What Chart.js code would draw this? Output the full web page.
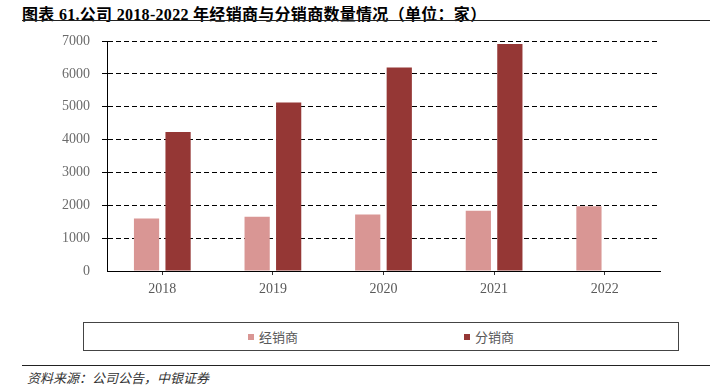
<!DOCTYPE html>
<html>
<head>
<meta charset="utf-8">
<script src="https://cdn.jsdelivr.net/npm/chart.js@4"></script>
<style>
  body { margin: 0; width: 710px; height: 392px; background: #fff; position: relative; overflow: hidden; }
  #title { position: absolute; left: 22px; top: 1px; font: bold 16px "Liberation Serif", "Noto Sans CJK SC", serif; color: #000; white-space: nowrap; letter-spacing: 0.3px; }
  .rule { position: absolute; left: 22px; right: 0; height: 0; border-top: 1.5px solid #222; }
  #chartWrap { position: absolute; left: 0; top: 0; }
  #legend { position: absolute; left: 83px; top: 322px; width: 594px; height: 27px; border: 1.5px solid #444;
            display: flex; justify-content: center; align-items: center; gap: 166px; }
  .item { display: flex; align-items: center; font: 13px "Noto Sans CJK SC", sans-serif; color: #595959; }
  .swatch { width: 6px; height: 6px; margin-right: 5px; }
  #source { position: absolute; left: 27px; top: 368px; font: italic 13px "Noto Sans CJK SC", sans-serif; color: #333; }
</style>
</head>
<body>
<div id="title">图表 61.公司 2018-2022 年经销商与分销商数量情况（单位：家）</div>
<div class="rule" style="top:20px"></div>
<div id="chartWrap"><canvas id="chart" width="710" height="300"></canvas></div>
<div id="legend"></div>
<div class="rule" style="top:365px"></div>
<div id="source">资料来源：公司公告，中银证券</div>
<script>
// 数据
const years = ["2018", "2019", "2020", "2021", "2022"];
const dealers = [1600, 1650, 1720, 1830, 1970];       // 经销商
const distributors = [4230, 5130, 6190, 6910, null];  // 分销商
const yTicks = [0, 1000, 2000, 3000, 4000, 5000, 6000, 7000];

const seriesNames = ["经销商", "分销商"];
const seriesColors = ["#D99694", "#953735"];

const ctx = document.getElementById("chart").getContext("2d");
const chart = new Chart(ctx, {
    type: "bar",
    data: {
        labels: years,
        datasets: [
            { label: seriesNames[0], data: dealers, backgroundColor: seriesColors[0] },
            { label: seriesNames[1], data: distributors, backgroundColor: seriesColors[1] }
        ]
    },
    options: {
        responsive: false,
        animation: false,
        categoryPercentage: 0.57,
        barPercentage: 0.8,
        layout: { padding: { left: 0, right: 50, top: 41, bottom: 0 } },
        plugins: { legend: { display: false }, tooltip: { enabled: false } },
        scales: {
            x: {
                afterFit: s => { s.height = 29; },
                grid: { offset: false, drawOnChartArea: false, drawTicks: true, tickLength: 4, color: "#333" },
                border: { color: "#000", width: 1 },
                ticks: { color: "#595959", padding: 6, font: { family: "Liberation Serif", size: 14 } }
            },
            y: {
                min: 0,
                max: 7000,
                afterFit: s => { s.width = 107; },
                afterBuildTicks: s => { s.ticks = yTicks.map(v => ({ value: v })); },
                grid: {
                    color: c => c.tick && c.tick.value === 0 ? "rgba(0,0,0,0)" : "#000",
                    lineWidth: 1,
                    tickLength: 5,
                    tickBorderDash: [5, 3]
                },
                border: { color: "#000", width: 1, dash: [5, 3] },
                ticks: {
                    color: "#6b6b6b",
                    padding: 12,
                    font: { family: "Liberation Serif", size: 14 },
                    callback: v => String(v)
                }
            }
        }
    }
});

// 图例（按数据集生成）
document.getElementById("legend").innerHTML = chart.data.datasets.map(d => `
    <div class="item"><span class="swatch" style="background:${d.backgroundColor}"></span>${d.label}</div>
`).join("");
</script>
</body>
</html>
